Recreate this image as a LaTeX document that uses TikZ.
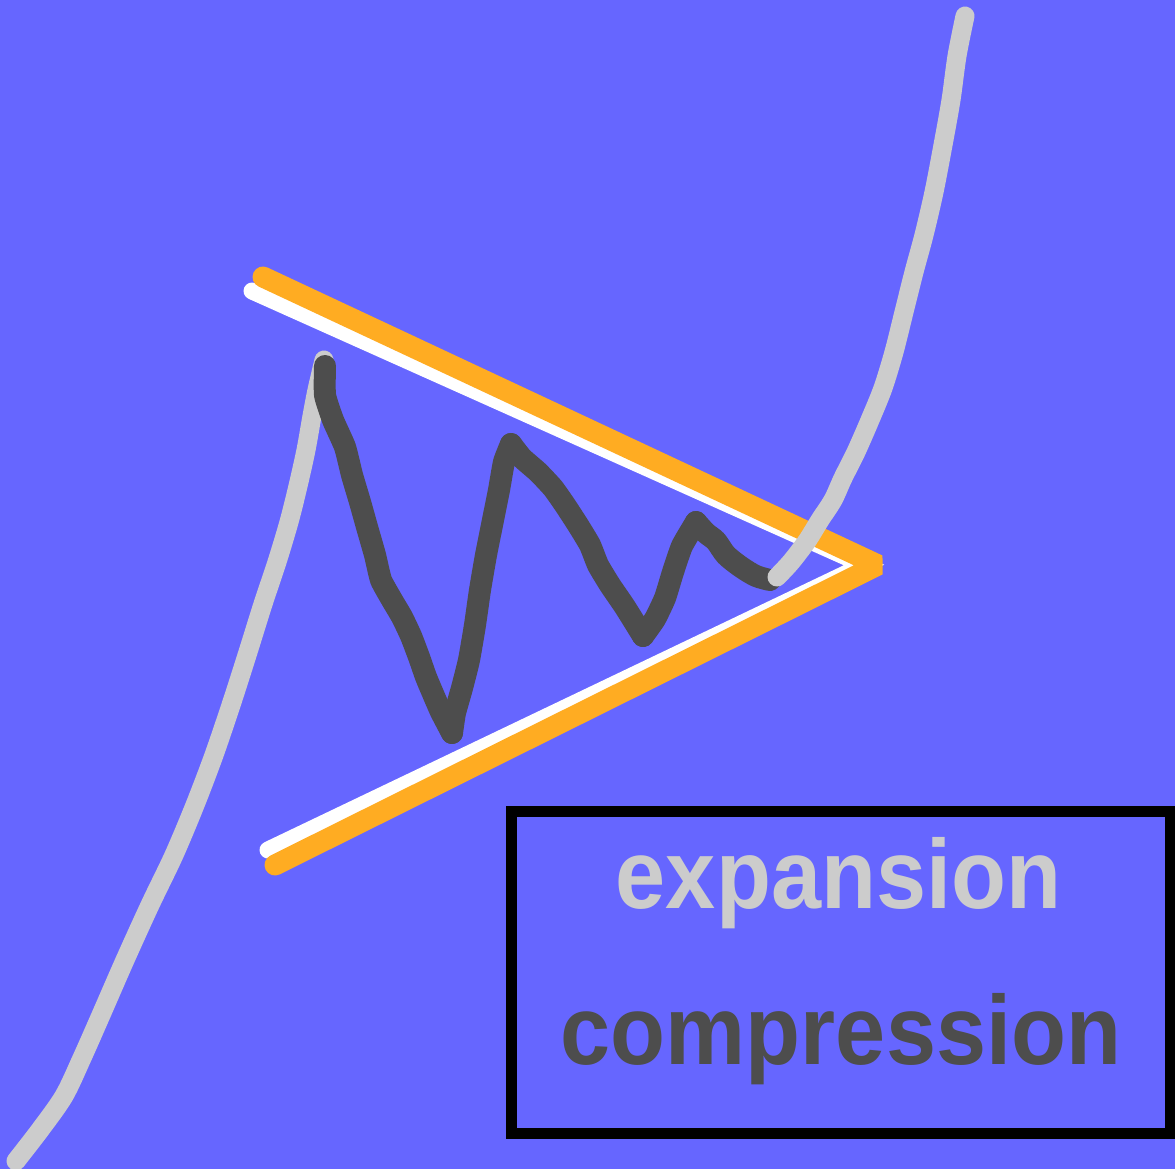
\documentclass[tikz,border=0pt]{standalone}
\usepackage{fontspec}
\usepackage{graphicx}
\setmainfont{Liberation Sans}
\definecolor{bgblue}{RGB}{102,102,255}
\definecolor{trorange}{RGB}{255,172,34}
\definecolor{lightgray}{RGB}{204,204,204}
\definecolor{darkgray}{RGB}{77,77,77}
\begin{document}
\begin{tikzpicture}[x=1pt,y=-1pt,
  grayline/.style={draw=lightgray,line width=19pt,line cap=round,line join=round},
  darkline/.style={draw=darkgray,line width=22pt,line cap=round,line join=round},
  whiteline/.style={draw=white,line width=17pt,line cap=round,line join=miter},
  orangeline/.style={draw=trorange,line width=21pt,line cap=round,line join=bevel},
  labeltext/.style={inner sep=0pt,anchor=base,font=\bfseries\fontsize{90}{100}\selectfont},
  framebox/.style={draw=black,line width=11pt,fill=none,inner sep=0pt}]
\fill[bgblue] (0,0) rectangle (1175,1169);
\useasboundingbox (0,0) rectangle (1175,1169);
% left gray rising curve
\draw[grayline] plot[smooth,tension=0.5] coordinates {(16,1161) (40,1130) (64,1096) (82,1058) (101,1015) (125,960) (150,905) (174,855) (195,805) (214,755) (232,702) (248,652) (263,604) (277,562) (289,522) (298,486) (306,450) (312,416) (317,390) (324,360)};
% white lines of the triangle
\draw[whiteline] (252,291) -- (864,565) -- (268,850);
% orange triangle
\draw[orangeline] (263,277) -- (878,565) -- (275,865);
% dark zigzag
\draw[darkline] plot[smooth,tension=0.3] coordinates {(325,366) (325,395) (333,420) (345,447) (352,475) (360,502) (367,527) (375,555) (381,580) (392,600) (402,617) (411,636) (419,657) (426,677) (434,696) (441,712) (452,733)};
\draw[darkline] plot[smooth,tension=0.3] coordinates {(452,733) (455,713) (462,688) (469,660) (475,625) (480,590) (486,555) (493,520) (499,490) (504,462) (511,444)};
\draw[darkline] plot[smooth,tension=0.3] coordinates {(511,444) (522,458) (538,472) (553,488) (565,505) (578,525) (590,545) (598,565) (610,585) (625,607) (643,636)};
\draw[darkline] plot[smooth,tension=0.3] coordinates {(643,636) (655,619) (665,598) (673,572) (682,546) (696,522)};
\draw[darkline] plot[smooth,tension=0.5] coordinates {(696,522) (706,533) (716,541) (726,555) (741,567) (756,576) (770,580)};
% right gray rising curve
\draw[grayline] plot[smooth,tension=0.5] coordinates {(777,577) (791,562) (807,541) (820,520) (833,500) (843,478) (856,452) (870,420) (883,388) (894,352) (904,312) (914,272) (924,235) (934,192) (943,145) (951,100) (957,56) (965,16)};
% legend box
\node[framebox,minimum width=659pt,minimum height=322pt] (legend) at (840.5,972.5) {};
\node[labeltext,text=lightgray] (expansion) at (838.5,908) {\scalebox{1}[1.09]{expansion}};
\node[labeltext,text=darkgray] (compression) at (841,1064) {\scalebox{1}[1.09]{compression}};
\end{tikzpicture}
\end{document}
